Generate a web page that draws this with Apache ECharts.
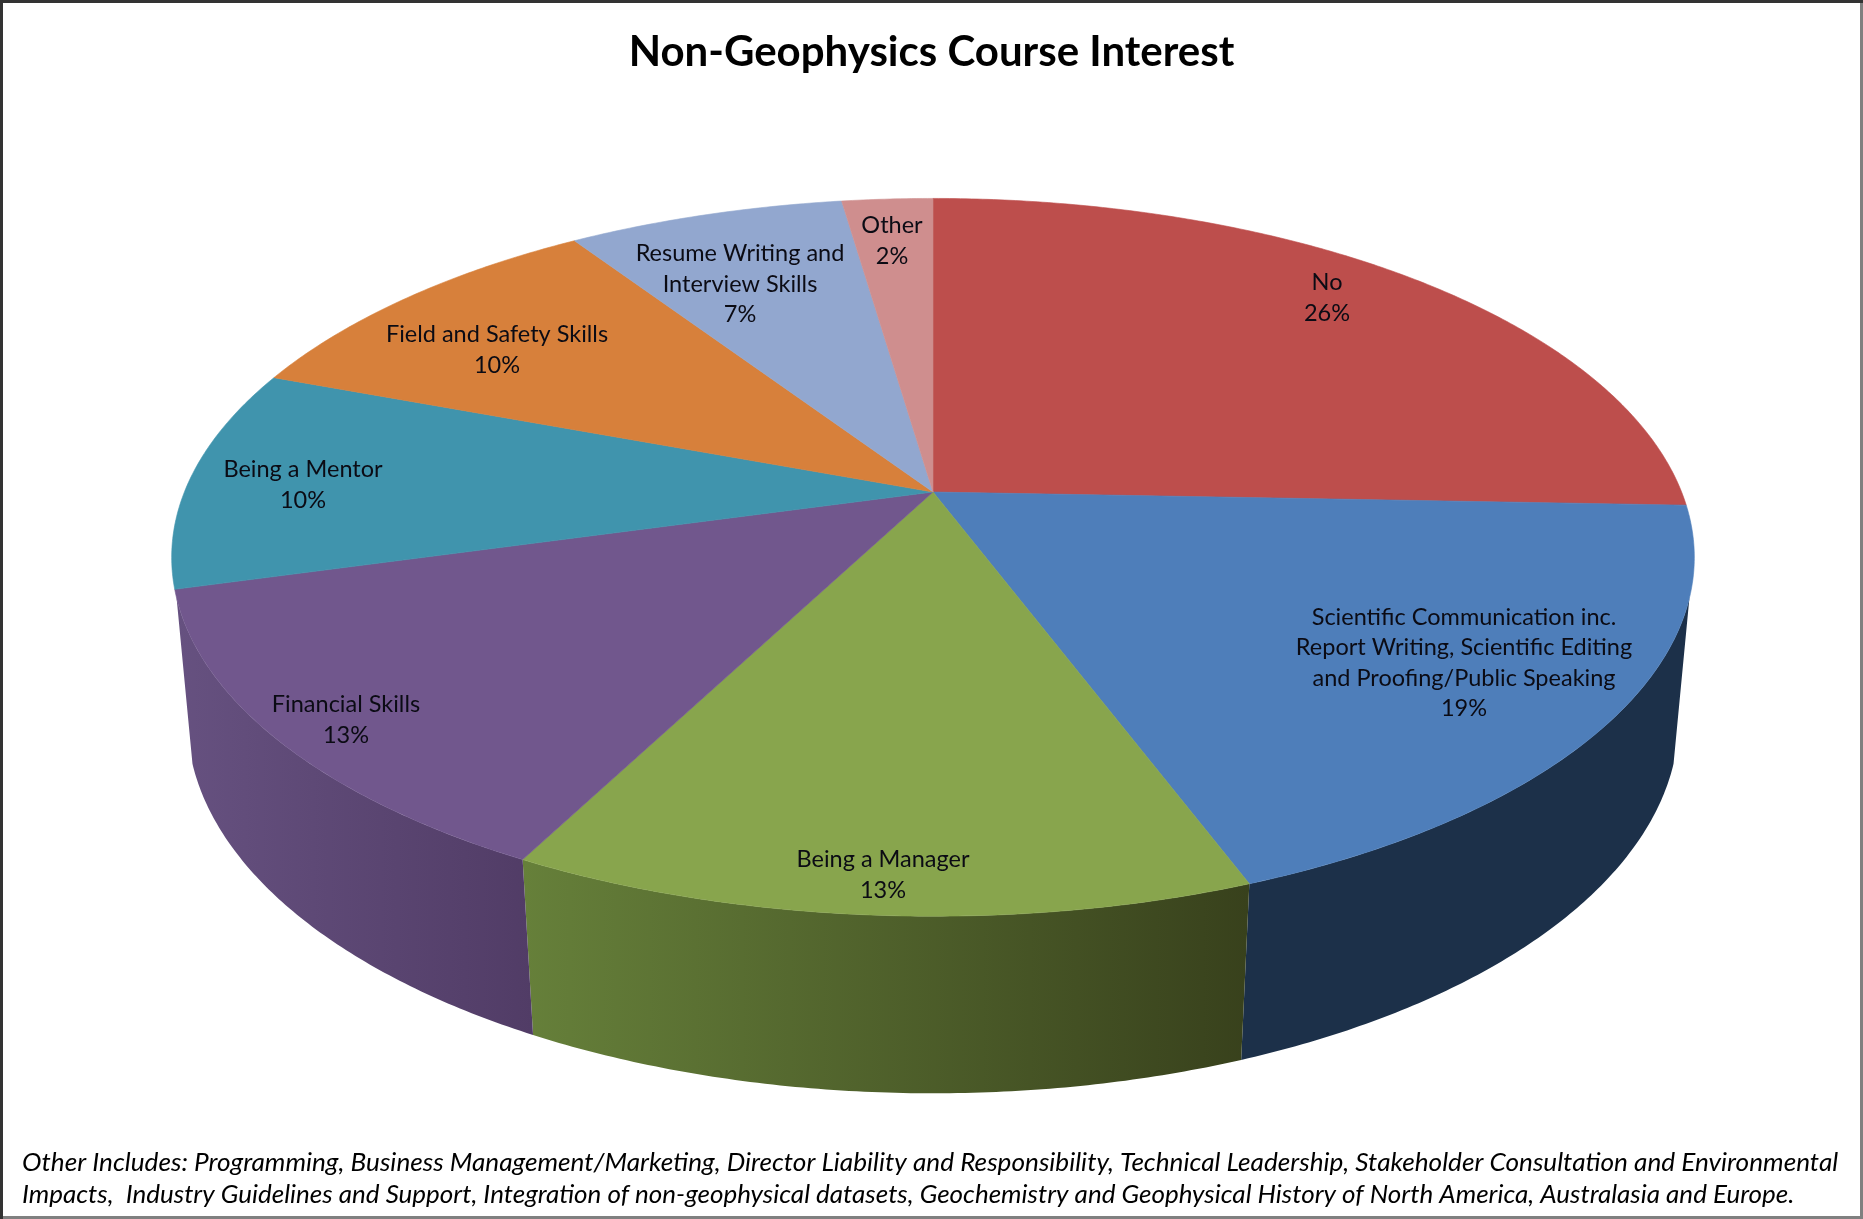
<!DOCTYPE html>
<html>
<head>
<meta charset="utf-8">
<style>
  html, body { margin: 0; padding: 0; background: #fff; }
  #chart { width: 1863px; height: 1219px; }
</style>
</head>
<body>
<div id="chart"></div>
<script src="https://cdn.jsdelivr.net/npm/echarts@6/dist/echarts.min.js"></script>
<script>
const categories = [
  'No',
  'Scientific Communication inc.\nReport Writing, Scientific Editing\nand Proofing/Public Speaking',
  'Being a Manager',
  'Financial Skills',
  'Being a Mentor',
  'Field and Safety Skills',
  'Resume Writing and\nInterview Skills',
  'Other'
]
// unrounded shares estimated from the slice boundaries, labels show them rounded
const shares = [25.6, 18.7, 13.3, 13.1, 10, 10, 7, 2.3]
const titleText = 'Non-Geophysics Course Interest'
const footnoteLines = [
  'Other Includes: Programming, Business Management/Marketing, Director Liability and Responsibility, Technical Leadership, Stakeholder Consultation and Environmental',
  'Impacts,  Industry Guidelines and Support, Integration of non-geophysical datasets, Geochemistry and Geophysical History of North America, Australasia and Europe.'
]

// styles and layout, kept apart from the data
const topColors = ['#BD4E4C', '#4E7EBA', '#88A54D', '#71578D', '#4094AD', '#D7803B', '#92A7CF', '#CF8E8E']
const wallColors = {
  1: ['#1C3049', '#1C3049'],
  2: ['#66803A', '#38411C'],
  3: ['#665180', '#513C66']
}
const labelAnchors = [
  [1327, 298], [1464, 663], [883, 875], [346, 720],
  [303, 485], [497, 350], [740, 284], [892, 241]
]
const LABEL_FONT = '23.5px Lato'

// perspective discs: apex of the pie, radii and tilt
const disc = { cx: 933, cy: 492, rx: 748.6, ry: 347, tilt: 0.182 }
const rim = { cx: 933, cy: 653.5, rx: 734.2, ry: 362.4, tilt: 0.176 }
// part of the side wall that faces the viewer, degrees clockwise from 12 o'clock
const wallFrom = 106.8
const wallTo = 253.2

const total = shares.reduce((a, b) => a + b, 0)
const startAngles = []
shares.reduce((sum, v, i) => { startAngles[i] = sum / total * 360; return sum + v }, 0)

function project(d, deg) {
  const t = deg * Math.PI / 180
  const x = Math.sin(t)
  const y = -Math.cos(t)
  const w = 1 - d.tilt * y
  return [d.cx + d.rx * x / w, d.cy + d.ry * y / w]
}

function arc(d, from, to) {
  const pts = []
  const n = Math.max(2, Math.ceil((to - from) * 2))
  for (let i = 0; i <= n; i++) pts.push(project(d, from + (to - from) * i / n))
  return pts
}

function renderWall(params, api) {
  const i = params.dataIndex
  const from = Math.max(startAngles[i], wallFrom)
  const to = Math.min(startAngles[i] + api.value(0) / total * 360, wallTo)
  if (to <= from) return null
  const c = wallColors[i] || [topColors[i], topColors[i]]
  return {
    type: 'polygon',
    shape: { points: arc(disc, from, to).concat(arc(rim, from, to).reverse()) },
    style: {
      fill: new echarts.graphic.LinearGradient(0, 0, 1, 0, [
        { offset: 0, color: c[0] },
        { offset: 1, color: c[1] }
      ])
    }
  }
}

function renderTop(params, api) {
  const i = params.dataIndex
  const from = startAngles[i]
  const to = from + api.value(0) / total * 360
  return {
    type: 'polygon',
    shape: { points: [[disc.cx, disc.cy]].concat(arc(disc, from, to)) },
    style: { fill: topColors[i], stroke: topColors[i], lineWidth: 0.6 }
  }
}

function renderLabel(params, api) {
  const i = params.dataIndex
  return {
    type: 'text',
    x: labelAnchors[i][0],
    y: labelAnchors[i][1],
    style: {
      text: categories[i] + '\n' + Math.round(api.value(0)) + '%',
      font: LABEL_FONT,
      lineHeight: 30.4,
      fill: '#0b0b14',
      align: 'center',
      verticalAlign: 'middle'
    }
  }
}

const chart = echarts.init(document.getElementById('chart'))
const seriesData = shares.map((v, i) => ({ name: categories[i], value: [v] }))

chart.setOption({
  animation: false,
  backgroundColor: '#fff',
  title: {
    text: titleText,
    left: 'center',
    top: 26,
    textStyle: { fontFamily: 'Lato', fontWeight: 'bold', fontSize: 42, color: '#000' }
  },
  graphic: [
    {
      type: 'polyline',
      shape: { points: [[1861.5, 0], [1861.5, 1217.5], [0, 1217.5]] },
      style: { fill: 'none', stroke: '#808080', lineWidth: 3 }
    },
    {
      type: 'polyline',
      shape: { points: [[1.5, 1219], [1.5, 1.5], [1863, 1.5]] },
      style: { fill: 'none', stroke: '#333', lineWidth: 3 }
    },
    {
      type: 'text',
      x: 22,
      y: 1163,
      scaleX: 1.0066,
      style: {
        text: footnoteLines[0],
        font: 'italic 26px Lato',
        fill: '#000',
        verticalAlign: 'middle'
      }
    },
    {
      type: 'text',
      x: 22,
      y: 1195,
      style: {
        text: footnoteLines[1],
        font: 'italic 26px Lato',
        fill: '#000',
        verticalAlign: 'middle'
      }
    }
  ],
  series: [
    { type: 'custom', coordinateSystem: 'none', silent: true, z: 1, renderItem: renderWall, data: seriesData },
    { type: 'custom', coordinateSystem: 'none', silent: true, z: 2, renderItem: renderTop, data: seriesData },
    { type: 'custom', coordinateSystem: 'none', silent: true, z: 3, renderItem: renderLabel, data: seriesData }
  ]
})
</script>
</body>
</html>
